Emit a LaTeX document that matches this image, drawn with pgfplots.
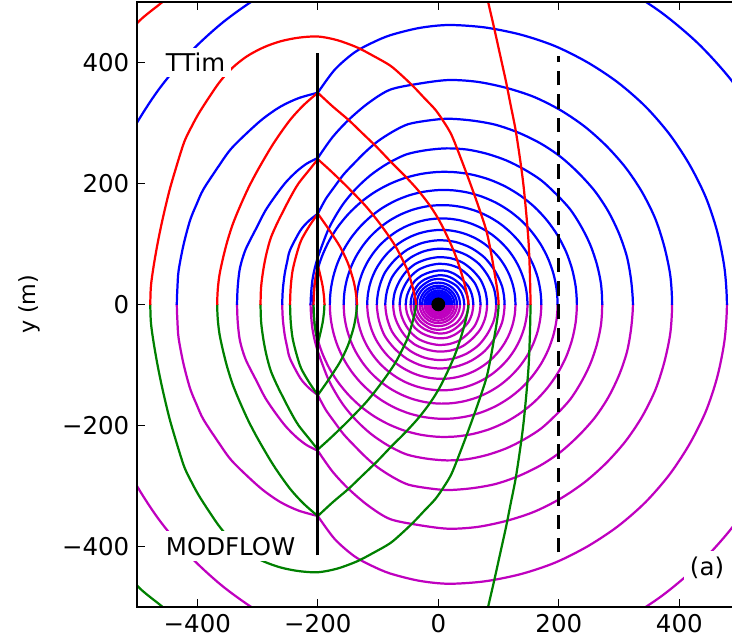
\documentclass[border=0pt]{standalone}
\usepackage{fontspec}
\setmainfont{DejaVu Sans}
\usepackage{pgfplots}
\pgfplotsset{compat=1.18}
\usepackage{pgfplotstable}

\definecolor{cblue}{rgb}{0,0,1}
\definecolor{cred}{rgb}{1,0,0}
\definecolor{cgreen}{rgb}{0,0.5,0}
\definecolor{cmag}{rgb}{0.75,0,0.75}

% larger closed head contours: angle (deg) and radius (m), one row past each end
\pgfplotstableread{
a     r598  r219  r189  r164  r142  r123
-7.5  614.9 229.9 197.9 170.9 147.9 128
0     615   230   198   171   148   128
7.5   614.9 229.9 197.9 170.9 147.9 128
15    614.4 229.6 197.7 170.8 147.8 127.8
22.5  613.7 229.2 197.3 170.5 147.5 127.6
30    612.7 228.5 196.8 170.1 147.2 127.3
37.5  611.5 227.7 196.1 169.6 146.8 127
45    610   226.8 195.4 168.9 146.2 126.5
52.5  608.3 225.7 194.5 168.3 145.7 126
60    606.5 224.5 193.5 167.5 145   125.5
67.5  604.5 223.2 192.4 166.7 144.3 124.9
75    602.4 221.8 191.3 165.8 143.6 124.3
82.5  600.2 220.4 190.2 164.9 142.8 123.7
90    598   219   189   164   142   123
97.5  595.8 217.6 187.8 163.1 141.2 122.3
105   593.6 216.2 186.7 162.2 140.4 121.7
112.5 591.5 214.8 185.6 161.3 139.7 121.1
120   589.5 213.5 184.5 160.5 139   120.5
127.5 587.7 212.3 183.5 159.7 138.3 120
135   586   211.2 182.6 159.1 137.8 119.5
142.5 584.5 210.3 181.9 158.4 137.2 119
150   583.3 209.5 181.2 157.9 136.8 118.7
157.5 582.3 208.8 180.7 157.5 136.5 118.4
165   581.6 208.4 180.3 157.2 136.2 118.2
172.5 581.1 208.1 180.1 157.1 136.1 118
180   581   208   180   157   136   118
187.5 581.1 208.1 180.1 157.1 136.1 118
}\bigrings

% smaller closed head contours near the well
\pgfplotstableread{
a   r106 r92 r78 r67 r56 r48 r42 r36 r31 r27 r23 r20 r17 r15 r13 r11
-15 110  96  81  70  58  50  43  36  31  27  23  20  17  15  13  11
0   110  96  81  70  58  50  43  36  31  27  23  20  17  15  13  11
15  110  96  81  70  58  50  43  36  31  27  23  20  17  15  13  11
30  109  95  81  70  58  50  43  36  31  27  23  20  17  15  13  11
45  109  95  80  69  57  49  43  36  31  27  23  20  17  15  13  11
60  108  94  80  69  57  49  42  36  31  27  23  20  17  15  13  11
75  107  93  79  68  57  49  42  36  31  27  23  20  17  15  13  11
90  106  92  78  67  56  48  42  36  31  27  23  20  17  15  13  11
105 105  91  77  66  55  47  42  36  31  27  23  20  17  15  13  11
120 104  90  77  66  55  47  41  36  31  27  23  20  17  15  13  11
135 103  89  76  65  55  47  41  36  31  27  23  20  17  15  13  11
150 103  89  75  64  54  46  41  36  31  27  23  20  17  15  13  11
165 102  88  75  64  54  46  41  36  31  27  23  20  17  15  13  11
180 102  88  75  64  54  46  41  36  31  27  23  20  17  15  13  11
195 102  88  75  64  54  46  41  36  31  27  23  20  17  15  13  11
}\smallrings

% head contours that meet the wall at x=-200
\pgfplotstableread[row sep=\\]{
x y\\
475 -60\\ 479 0\\ 475 60\\ 463 120\\ 444 177\\ 417 231\\ 384 281\\ 344 327\\ 298 367\\ 248 400\\ 194 427\\ 137 446\\ 77 458\\ 17 462\\ -32 457\\ -80 445\\ -111 432\\ -140 416\\ -172 388\\ -200 350\\
nan nan\\
385 -48\\ 388 0\\ 385 48\\ 375 96\\ 360 142\\ 338 186\\ 311 226\\ 279 262\\ 243 294\\ 203 321\\ 159 343\\ 113 358\\ 65 368\\ 17 371\\ -32 365\\ -80 355\\ -116 333\\ -149 305\\ -176 276\\ -200 242\\
nan nan\\
320 -40\\ 323 0\\ 320 40\\ 313 79\\ 300 117\\ 282 154\\ 260 187\\ 233 217\\ 203 244\\ 170 266\\ 133 284\\ 95 297\\ 56 304\\ 16 307\\ -17 304\\ -50 298\\ -75 286\\ -100 270\\ -120 253\\ -140 233\\ -157 215\\ -172 195\\ -187 174\\ -200 150\\
nan nan\\
270 -34\\ 272 0\\ 270 34\\ 263 67\\ 252 99\\ 237 129\\ 219 157\\ 196 182\\ 171 205\\ 143 223\\ 113 238\\ 81 249\\ 48 256\\ 14 258\\ -20 255\\ -53 248\\ -84 233\\ -112 214\\ -137 191\\ -160 163\\ -182 125\\ -200 78\\
nan nan\\
-433 -28\\ -434 0\\ -433 28\\ -431 56\\ -423 98\\ -412 139\\ -401 166\\ -390 190\\ -367 225\\ -345 256\\ -318 283\\ -291 307\\ -262 327\\ -232 341\\ -200 350\\
nan nan\\
-333 -28\\ -334 0\\ -333 28\\ -330 56\\ -325 76\\ -318 95\\ -301 128\\ -287 155\\ -270 180\\ -253 202\\ -235 220\\ -218 233\\ -200 242\\
nan nan\\
-258 -25\\ -259 0\\ -258 25\\ -255 50\\ -251 70\\ -246 90\\ -229 122\\ -215 138\\ -200 150\\
nan nan\\
-211 -20\\ -212 0\\ -211 20\\ -209 40\\ -205 60\\ -200 78\\
}\bluebent

% second set of contours (red / green)
\pgfplotstableread[row sep=\\]{
x y\\
152 -50\\ 153 0\\ 152 50\\ 150 100\\ 146 150\\ 141 200\\ 135 245\\ 128 290\\ 120 330\\ 112 370\\ 102 415\\ 92 460\\ 78 520\\
nan nan\\
-530 420\\ -500 465\\ -458 500\\ -430 525\\
nan nan\\
-477 -30\\ -478 0\\ -477 30\\ -473 60\\ -467 95\\ -460 130\\ -452 165\\ -443 200\\ -423 265\\ -410 293\\ -395 320\\ -365 365\\ -343 390\\ -318 410\\ -290 425\\ -262 435\\ -232 441\\ -200 443\\ -168 437\\ -135 425\\ -108 411\\ -80 395\\ -60 378\\ -41 360\\ -23 341\\ -5 322\\ 9 302\\ 22 280\\ 38 240\\ 53 200\\ 68 158\\ 81 117\\ 92 60\\ 100 0\\ 92 -60\\
nan nan\\
-366 -25\\ -367 0\\ -366 25\\ -363 50\\ -357 78\\ -350 105\\ -341 133\\ -330 160\\ -315 193\\ -298 225\\ -273 267\\ -246 305\\ -223 330\\ -200 350\\
nan nan\\
-200 350\\ -175 327\\ -149 305\\ -126 283\\ -102 260\\ -79 236\\ -55 212\\ -33 188\\ -13 162\\ 2 138\\ 15 112\\ 27 85\\ 37 56\\ 45 28\\ 50 0\\ 45 -28\\
nan nan\\
-294 -30\\ -295 0\\ -294 30\\ -290 60\\ -285 85\\ -278 110\\ -268 133\\ -257 155\\ -245 178\\ -232 200\\ -212 225\\ -200 240\\
nan nan\\
-200 240\\ -180 222\\ -160 203\\ -140 183\\ -120 162\\ -102 140\\ -85 117\\ -71 96\\ -60 75\\ -51 56\\ -45 37\\ -40 18\\ -37 0\\ -40 -18\\
nan nan\\
-245 -28\\ -246 0\\ -245 28\\ -242 55\\ -236 80\\ -228 105\\ -215 128\\ -200 150\\
nan nan\\
-200 150\\ -181 123\\ -163 95\\ -150 68\\ -141 40\\ -137 20\\ -135 0\\ -137 -20\\
nan nan\\
-205 -35\\ -207 0\\ -205 35\\ -200 65\\
nan nan\\
-200 65\\ -192 30\\ -189 0\\ -192 -30\\
}\redcurves

\pgfplotsset{
  half/.style={
    scale only axis, width=271pt, height=136pt,
    xmin=-500, xmax=500, ymin=0, ymax=500, hide axis,
  },
}

\begin{document}
\begin{tikzpicture}
% MODFLOW half: same contour set, mirrored below y=0
\begin{axis}[half, at={(0,0)}, anchor=south west, y dir=reverse]
\pgfplotsinvokeforeach{r598,r219,r189,r164,r142,r123}{
  \addplot[cmag, line width=1pt, smooth, data cs=polar] table[x=a, y=#1] {\bigrings};
}
\pgfplotsinvokeforeach{r106,r92,r78,r67,r56,r48,r42,r36,r31,r27,r23,r20,r17,r15,r13,r11}{
  \addplot[cmag, line width=1pt, smooth, data cs=polar] table[x=a, y=#1] {\smallrings};
}
\addplot[cmag, line width=1pt, smooth, unbounded coords=jump] table[x=x, y=y] {\bluebent};
\addplot[cgreen, line width=1pt, smooth, unbounded coords=jump] table[x=x, y=y] {\redcurves};
\end{axis}

% TTim half
\begin{axis}[half, at={(0,136pt)}, anchor=south west]
\pgfplotsinvokeforeach{r598,r219,r189,r164,r142,r123}{
  \addplot[cblue, line width=1pt, smooth, data cs=polar] table[x=a, y=#1] {\bigrings};
}
\pgfplotsinvokeforeach{r106,r92,r78,r67,r56,r48,r42,r36,r31,r27,r23,r20,r17,r15,r13,r11}{
  \addplot[cblue, line width=1pt, smooth, data cs=polar] table[x=a, y=#1] {\smallrings};
}
\addplot[cblue, line width=1pt, smooth, unbounded coords=jump] table[x=x, y=y] {\bluebent};
\addplot[cred, line width=1pt, smooth, unbounded coords=jump] table[x=x, y=y] {\redcurves};
\end{axis}

% frame, wall, observation line, well and labels
\begin{axis}[name=main, at={(0,0)}, anchor=south west,
  scale only axis, width=271pt, height=272pt,
  xmin=-500, xmax=500, ymin=-500, ymax=500,
  axis line style={line width=1.1pt},
  tick align=inside, xtick pos=both, ytick pos=both,
  xticklabel pos=lower, yticklabel pos=left,
  major tick length=3.6pt,
  tick style={black, line width=0.6pt},
  xtick={-400,-200,0,200,400}, ytick={-400,-200,0,200,400},
  xticklabels={−400,−200,0,200,400}, yticklabels={−400,−200,0,200,400},
  tick label style={font=\fontsize{11}{13}\selectfont},
  ylabel={y (m)},
  ylabel style={font=\fontsize{11}{13}\selectfont},
  every axis y label/.style={at={(axis description cs:-0.178,0.5)}, rotate=90, anchor=center},
]
\addplot[black, line width=1.4pt] coordinates {(-200,-415) (-200,415)};
\addplot[black, line width=1.3pt, dash pattern=on 6.5pt off 4pt] coordinates {(200,-410) (200,410)};
\addplot[black, only marks, mark=*, mark size=2.9pt] coordinates {(0,0)};

\node[fill=white, anchor=west, inner sep=2.5pt, font=\fontsize{11}{13}\selectfont] at (axis cs:-462,400) {TTim};
\node[fill=white, anchor=west, inner sep=2.5pt, font=\fontsize{11}{13}\selectfont] at (axis cs:-462,-400) {MODFLOW};
\node[fill=white, inner sep=2.5pt, font=\fontsize{11}{13}\selectfont] at (axis cs:446,-435) {(a)};
\end{axis}
\pgfresetboundingbox
\path[use as bounding box] ([xshift=-61.65pt,yshift=-15.3pt]main.south west) rectangle ([xshift=-3.4pt,yshift=0.9pt]main.north east);
\end{tikzpicture}
\end{document}
